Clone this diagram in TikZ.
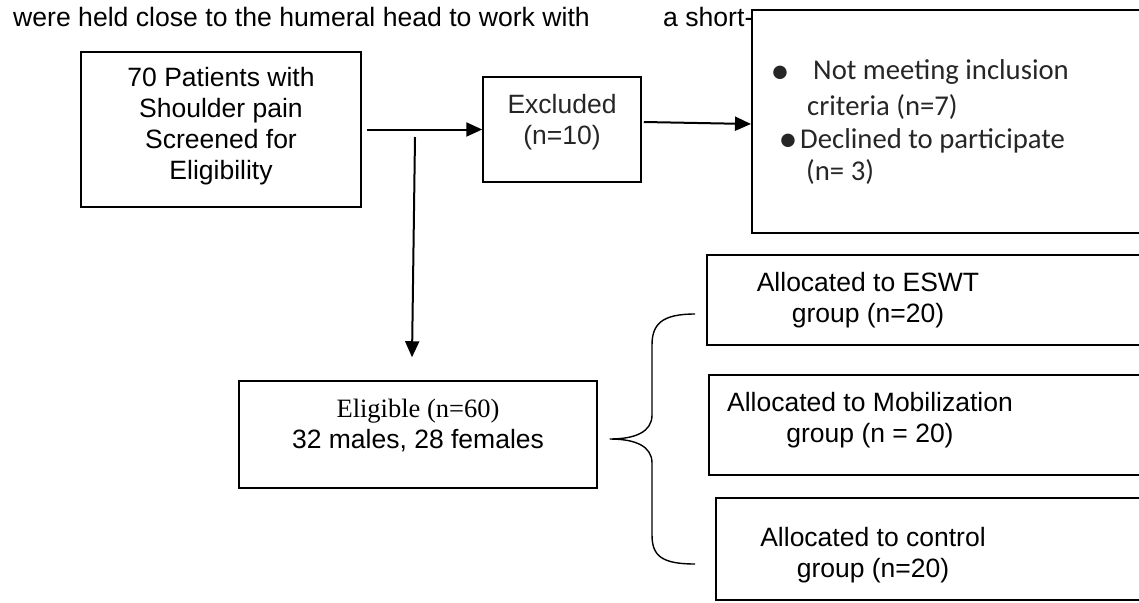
\documentclass[tikz,border=0pt]{standalone}
\usepackage{fontspec}
\setmainfont{Liberation Sans}
\newfontfamily\calfont{Carlito}
\newfontfamily\tnrfont{Liberation Serif}
\usetikzlibrary{arrows.meta,calc}
\begin{document}
\begin{tikzpicture}[x=1pt,y=-1pt,
  box/.style={draw, line width=1.5pt, inner sep=0pt},
  thickbox/.style={draw, line width=2pt, inner sep=0pt},
  txt/.style={font=\fontsize{26.5}{31}\selectfont, inner sep=0pt, align=center},
  ctxt/.style={font=\calfont\fontsize{28.7}{34}\selectfont, inner sep=0pt, text=black!85, anchor=base west},
  bullet/.style={font=\calfont\fontsize{38}{38}\selectfont, inner sep=0pt, text=black!85, anchor=center},
  arr/.style={line width=2pt, -{Triangle[length=16pt,width=14pt]}},
  bracestyle/.style={line width=1.4pt}]
\useasboundingbox (0,0) rectangle (1139,602);
\clip (0,0) rectangle (1139,602);

% top running text
\node[font=\fontsize{26.6}{31}\selectfont, inner sep=0pt, anchor=base west] (run1) at (13,27) {were held close to the humeral head to work with};
\node[font=\fontsize{26.6}{31}\selectfont, inner sep=0pt, anchor=base west] (run2) at (663,27) {a short-};

% boxes
\node[thickbox, minimum width=280pt, minimum height=155pt] (screen) at (221,129.5) {};
\node[box, minimum width=158pt, minimum height=105pt] (excluded) at (562,129.5) {};
\node[thickbox, minimum width=448pt, minimum height=223pt] (list) at (976,121.5) {};
\node[box, minimum width=358pt, minimum height=107pt] (elig) at (418,434.5) {};
\node[box, minimum width=493pt, minimum height=90pt] (eswt) at (953.5,300) {};
\node[box, minimum width=491pt, minimum height=100pt] (mob) at (954.5,425) {};
\node[box, minimum width=484pt, minimum height=102pt] (ctrl) at (958,549) {};

% texts
\node[txt] (screentxt) at (221,126) {70 Patients with\\Shoulder pain\\Screened for\\Eligibility};
\node[txt, text=black!85] (exctxt) at (562,122) {Excluded\\(n=10)};
\node[txt] (eligtxt) at (418,425) {{\tnrfont Eligible (n=60)}\\32 males, 28 females};
\node[txt] (eswttxt) at (868,300) {Allocated to ESWT\\group (n=20)};
\node[txt] (mobtxt) at (870,420) {Allocated to Mobilization\\group (n = 20)};
\node[txt] (ctrltxt) at (873,555) {Allocated to control\\group (n=20)};

% list box content
\node[bullet] (b1) at (780,75) {•};
\node[ctxt] (l1) at (813,79) {Not meeting inclusion};
\node[ctxt] (l2) at (807,115) {criteria (n=7)};
\node[bullet] (b2) at (788,143) {•};
\node[ctxt] (l3) at (800,148) {Declined to participate};
\node[ctxt] (l4) at (806,180) {(n= 3)};

% arrows
\draw[arr] ([xshift=5pt]screen.east) -- (excluded.west);
\draw[arr] ($(excluded.east)+(2,-7.5)$) -- ($(list.west)+(0,2.5)$);
\coordinate (vtop) at (415,137);
\draw[arr] (vtop) -- ($(elig.north)+(-6,-23)$);

% brace
\coordinate (btip) at ($(elig.east)+(12,4.5)$);
\draw[bracestyle] (695,314) .. controls (662,314) and (652,324) .. (652,345) -- (652,415)
  .. controls (652,432) and (635,439) .. (btip)
  .. controls (635,439) and (652,446) .. (652,463) -- (652,535)
  .. controls (652,556) and (662,564) .. (695,564);
\end{tikzpicture}
\end{document}
